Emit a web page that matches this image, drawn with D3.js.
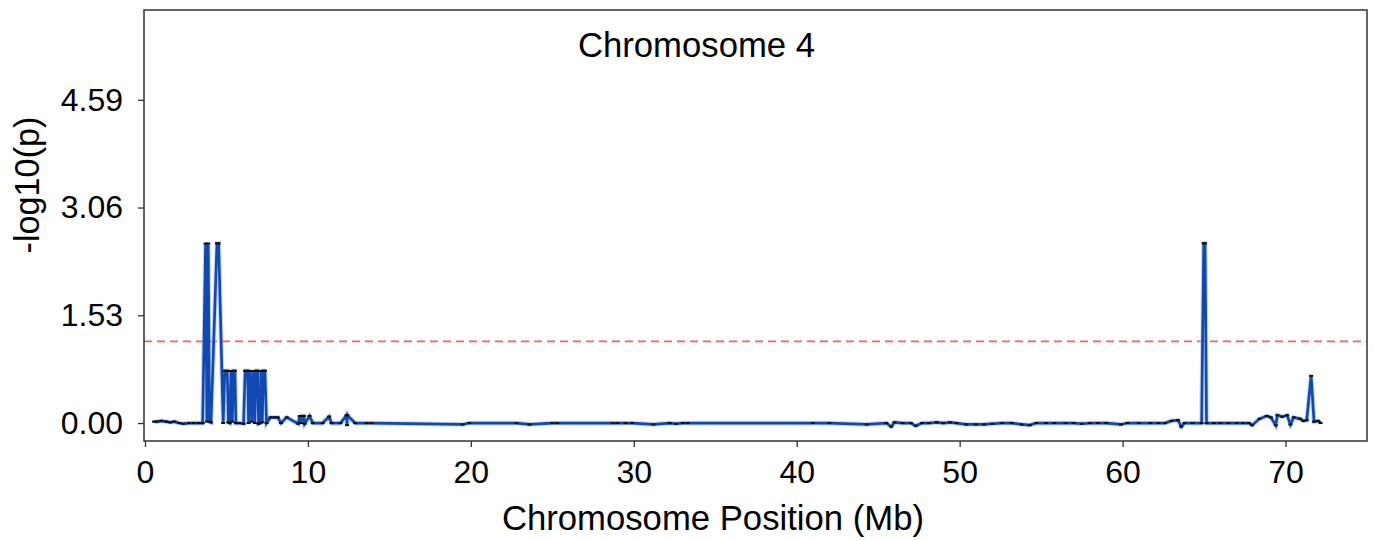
<!DOCTYPE html>
<html>
<head>
<meta charset="utf-8">
<script src="https://cdn.jsdelivr.net/npm/d3@7"></script>
<style>
  html, body { margin: 0; padding: 0; background: #ffffff; }
  svg { display: block; }
  text { font-family: "Liberation Sans", Arial, Helvetica, sans-serif; fill: #000; }
</style>
</head>
<body>
<svg id="chart" width="1375" height="541"></svg>
<script>
// Marker positions along chromosome 4 (Mb) and their -log10(p) scores
const positions = [
  0.55, 0.75, 1.0, 1.3, 1.55, 1.8, 2.1, 2.35, 2.7, 3.0, 3.3, 3.54,
  3.72, 3.8, 3.88, 3.96, 4.05, 4.42, 4.52, 4.8,
  4.9, 5.05, 5.12, 5.2, 5.28, 5.36, 5.44, 5.52, 5.58, 5.8, 6.05,
  6.15, 6.3, 6.36, 6.45, 6.55, 6.64, 6.74, 6.82, 6.92, 6.97, 7.08, 7.12, 7.2, 7.26, 7.36, 7.46,
  7.7, 7.95, 8.15, 8.35, 8.7, 9.4, 9.5, 9.58, 9.65, 9.75, 9.8, 10.1, 10.3, 10.9,
  11.3, 11.45, 12.0, 12.37, 12.4, 12.42, 12.9, 13.6, 13.9,
  19.5, 19.9, 22.8, 23.6, 25.0, 25.3, 28.7, 29.0, 29.5, 29.9, 31.2, 32.2, 32.6, 33.0, 33.3,
  41.0, 42.0, 44.3, 45.5, 45.8, 46.0, 46.5, 47.0, 47.3, 47.7, 48.1, 48.6, 49.0, 49.4, 49.8,
  50.4, 51.0, 51.5, 52.0, 52.6, 53.2, 53.8, 54.3, 54.7, 55.3, 55.8, 56.5, 57.0, 57.5, 58.0,
  58.5, 59.0, 59.9, 60.3, 61.0, 61.7, 62.2, 62.6, 63.0, 63.4, 63.6, 63.8, 64.3,
  64.85, 64.98, 65.06, 65.15, 65.6, 66.0, 66.5, 67.0, 67.4, 67.75, 67.95,
  68.4, 68.85, 69.1, 69.4, 69.5, 69.8, 70.1, 70.3, 70.5, 70.9, 71.1, 71.3, 71.57, 71.75, 72.0, 72.15
];
const scores = [
  0.02, 0.02, 0.03, 0.02, 0.01, 0.02, 0.0, -0.01, 0.0, 0.0, 0.0, 0.0,
  2.55, 0.02, 2.55, 0.02, 0.01, 2.55, 2.55, 0.0,
  0.74, 0.74, 0.01, 0.0, 0.74, 0.02, 0.74, 0.74, 0.0, 0.0, -0.01,
  0.74, 0.74, 0.0, 0.74, 0.02, 0.74, 0.0, 0.74, 0.74, -0.01, 0.0, 0.74, 0.01, 0.74, 0.74, 0.0,
  0.08, 0.08, 0.08, 0.0, 0.08, -0.01, 0.1, 0.0, 0.1, 0.1, -0.01, 0.1, 0.0, 0.0,
  0.09, 0.0, 0.0, 0.11, -0.03, 0.11, 0.0, 0.0, 0.0,
  -0.02, 0.0, 0.0, -0.02, 0.0, 0.0, 0.0, 0.0, 0.0, 0.0, -0.02, 0.0, -0.01, 0.0, 0.0,
  0.0, 0.0, -0.02, 0.0, -0.05, 0.01, 0.0, 0.0, -0.04, 0.0, 0.0, 0.01, 0.0, 0.01, 0.0,
  -0.02, -0.02, -0.02, -0.01, 0.0, 0.0, -0.02, -0.03, 0.0, 0.0, 0.0, 0.0, 0.0, -0.01, 0.0,
  0.0, 0.0, -0.02, 0.0, 0.0, 0.0, 0.0, 0.0, 0.03, 0.04, -0.05, 0.0, 0.0,
  0.0, 2.55, 2.55, 0.0, 0.0, 0.0, 0.0, 0.0, 0.0, 0.0, -0.03,
  0.06, 0.1, 0.08, -0.03, 0.11, 0.09, 0.11, -0.02, 0.08, 0.06, 0.03, 0.04, 0.67, 0.02, 0.03, 0.0
];
const xTicks = [0, 10, 20, 30, 40, 50, 60, 70];
const yTicks = [0, 1.53, 3.06, 4.59];
const yTickLabels = ["0.00", "1.53", "3.06", "4.59"];
const threshold = 1.16;
const chromosomeTitle = "Chromosome 4";
const xTitle = "Chromosome Position (Mb)";
const yTitle = "-log10(p)";

const points = positions.map((p, i) => ({ pos: p, score: scores[i] }));

const svg = d3.select("#chart");
const plot = { left: 144, right: 1367, top: 10, bottom: 441 };

const x = d3.scaleLinear().domain([-0.06, 75.0]).range([plot.left, plot.right]);
const y = d3.scaleLinear().domain([-0.255, 5.865]).range([plot.bottom, plot.top]);

// Clip the data layer to the axes box
svg.append("defs").append("clipPath").attr("id", "plotClip")
  .append("rect")
  .attr("x", plot.left).attr("y", plot.top)
  .attr("width", plot.right - plot.left).attr("height", plot.bottom - plot.top);

const layer = svg.append("g").attr("clip-path", "url(#plotClip)");

// Significance threshold
layer.append("line")
  .attr("x1", plot.left).attr("x2", plot.right)
  .attr("y1", y(threshold)).attr("y2", y(threshold))
  .attr("stroke", "#f0626e")
  .attr("stroke-width", 1.6)
  .attr("stroke-dasharray", "8,5");

const line = d3.line().x(d => x(d.pos)).y(d => y(d.score));

// Soft underlay and main association trace
layer.append("path")
  .datum(points)
  .attr("d", line)
  .attr("fill", "none")
  .attr("stroke", "#9db8e8")
  .attr("stroke-opacity", 0.55)
  .attr("stroke-width", 4.8)
  .attr("stroke-linejoin", "miter");

layer.append("path")
  .datum(points)
  .attr("d", line)
  .attr("fill", "none")
  .attr("stroke", "#1149b3")
  .attr("stroke-width", 2.7)
  .attr("stroke-linejoin", "miter");

// Marker ticks at each SNP
layer.selectAll("rect.snp")
  .data(points)
  .join("rect")
  .attr("class", "snp")
  .attr("x", d => x(d.pos) - 2)
  .attr("y", d => y(d.score) - 1)
  .attr("width", 4)
  .attr("height", 2)
  .attr("fill", "#111");

// Axes
const xAxis = d3.axisBottom(x).tickValues(xTicks).tickFormat(d3.format("d"))
  .tickSize(6).tickPadding(13);
const yAxis = d3.axisLeft(y).tickValues(yTicks).tickFormat((d, i) => yTickLabels[i])
  .tickSize(6).tickPadding(15);

const gx = svg.append("g").attr("transform", `translate(0,${plot.bottom})`).call(xAxis);
const gy = svg.append("g").attr("transform", `translate(${plot.left},0)`).call(yAxis);

[gx, gy].forEach(g => {
  g.select(".domain").remove();
  g.selectAll(".tick line").attr("stroke", "#333").attr("stroke-width", 1.3);
  g.selectAll(".tick text")
    .style("font-family", "'Liberation Sans', Arial, sans-serif")
    .style("font-size", "32px")
    .attr("fill", "#000");
});

// Frame
svg.append("rect")
  .attr("x", plot.left).attr("y", plot.top)
  .attr("width", plot.right - plot.left).attr("height", plot.bottom - plot.top)
  .attr("fill", "none")
  .attr("stroke", "#333")
  .attr("stroke-width", 1.5);

// Titles
svg.append("text")
  .attr("x", 696.5).attr("y", 57)
  .attr("text-anchor", "middle")
  .style("font-size", "34.7px")
  .text(chromosomeTitle);

svg.append("text")
  .attr("x", 713).attr("y", 530)
  .attr("text-anchor", "middle")
  .style("font-size", "34.7px")
  .text(xTitle);

svg.append("text")
  .attr("transform", "translate(39,185) rotate(-90)")
  .attr("text-anchor", "middle")
  .style("font-size", "34.2px")
  .text(yTitle);
</script>
</body>
</html>
